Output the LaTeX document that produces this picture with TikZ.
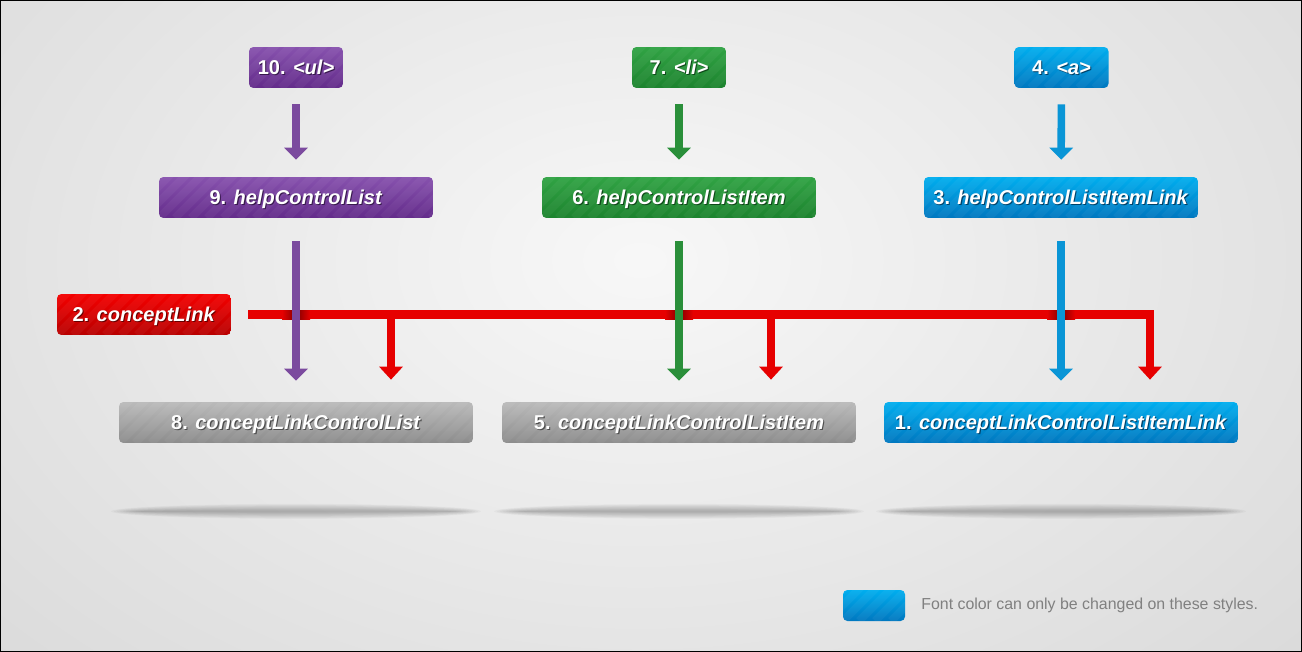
\documentclass[tikz,border=0pt]{standalone}
\usepackage{fontspec}
\setmainfont{Liberation Sans}
\usetikzlibrary{arrows.meta,calc}

\definecolor{plumtop}{HTML}{8752AE}
\definecolor{plumbot}{HTML}{632B8A}
\definecolor{plumline}{HTML}{7B4A9E}
\definecolor{greentop}{HTML}{31A344}
\definecolor{greenbot}{HTML}{1C832E}
\definecolor{greenline}{HTML}{2A8F3A}
\definecolor{bluetop}{HTML}{00AEEF}
\definecolor{bluebot}{HTML}{0077BF}
\definecolor{blueline}{HTML}{0A95D6}
\definecolor{redtop}{HTML}{F40000}
\definecolor{redbot}{HTML}{B80000}
\definecolor{redline}{HTML}{E60000}
\definecolor{greytop}{HTML}{BABABA}
\definecolor{greybot}{HTML}{8C8C8C}

\newcommand{\lbl}[2]{\makebox[0pt][l]{\hspace{0.6pt}\raisebox{-0.6pt}{\color{txtsh}\textbf{#1\textit{#2}}}}\textbf{#1\textit{#2}}}

\tikzset{
  box/.style={rounded corners=2.5pt, minimum height=0.82cm, inner sep=0pt, text=white, text depth=0pt,
    font=\fontsize{11.4}{13}\selectfont,
    path picture={\foreach \k in {-6,...,24}
      \draw[white, opacity=0.045, line width=4.5pt] ($(path picture bounding box.south west)+(\k*16,0)$) -- ++(60,-60);}},
  pbox/.style={box, top color=plumtop, bottom color=plumbot, execute at begin node={\colorlet{txtsh}{plumbot!55!black}}},
  gbox/.style={box, top color=greentop, bottom color=greenbot, execute at begin node={\colorlet{txtsh}{greenbot!55!black}}},
  bbox/.style={box, top color=bluetop, bottom color=bluebot, execute at begin node={\colorlet{txtsh}{bluebot!55!black}}},
  rbox/.style={box, top color=redtop, bottom color=redbot, execute at begin node={\colorlet{txtsh}{redbot!55!black}}},
  ybox/.style={box, top color=greytop, bottom color=greybot, execute at begin node={\colorlet{txtsh}{greybot!55!black}}},
  small/.style={minimum width=1.88cm},
  mid/.style={minimum width=5.48cm},
  wide/.style={minimum width=7.08cm},
  varrow/.style={line width=4.3pt, -{Triangle[width=0.46cm,length=0.24cm]}},
  rarrow/.style={line width=5.1pt, draw=redline, line join=miter, -{Triangle[width=0.46cm,length=0.26cm]}}
}

\begin{document}
\begin{tikzpicture}[x=0.02cm, y=-0.02cm]
  \useasboundingbox (0,0) rectangle (1302,652);
  \begin{scope}
    \clip (0,0) rectangle (1302,652);
    \shade[inner color=white!97!black, outer color=black!22] (640,260) ellipse (1500 and 1000);
  \end{scope}

  % boxes
  \node[pbox, small] (ul) at (296,67.5) {\lbl{10.}{ <ul>}};
  \node[gbox, small] (li) at (679,67.5) {\lbl{7.}{ <li>}};
  \node[bbox, small] (a) at (1061.5,67.5) {\lbl{4.}{ <a>}};
  \node[pbox, mid] (h9) at (296,197.5) {\lbl{9.}{ helpControlList}};
  \node[gbox, mid] (h6) at (679,197.5) {\lbl{6.}{ helpControlListItem}};
  \node[bbox, mid] (h3) at (1061,197.5) {\lbl{3.}{ helpControlListItemLink}};
  \node[rbox, minimum width=3.48cm] (cl) at (144,314.5) {\lbl{2.}{ conceptLink}};
  \node[ybox, wide] (c8) at (296,422.5) {\lbl{8.}{ conceptLinkControlList}};
  \node[ybox, wide] (c5) at (679,422.5) {\lbl{5.}{ conceptLinkControlListItem}};
  \node[bbox, wide] (c1) at (1061,422.5) {\lbl{1.}{ conceptLinkControlListItemLink}};

  % shadows under the bottom row
  \foreach \n in {c8,c5,c1}
    \foreach \i in {1,...,10}
      \fill[black, opacity=0.028] ($(\n.south)+(0,68)$) ellipse ({155+3*\i} and {0.75*\i});

  % conceptLink
  \coordinate (rs) at ($(cl.east)+(17,0)$);
  \draw[rarrow, shorten >=0.44cm] (rs) -| ($(c1.north)+(89,0)$);
  \draw[rarrow, shorten >=0.44cm] ($(c8.north |- rs)+(95,0)$) -- ($(c8.north)+(95,0)$);
  \draw[rarrow, shorten >=0.44cm] ($(c5.north |- rs)+(92,0)$) -- ($(c5.north)+(92,0)$);
  \foreach \n in {c8,c5,c1}
    \shade[left color=redline, right color=redline, middle color=redline!55!black]
      ($(\n.north |- rs)+(-14,-4.5)$) rectangle ($(\n.north |- rs)+(14,4.5)$);

  % help arrows
  \draw[varrow, draw=plumline, shorten <=0.32cm, shorten >=0.34cm] (ul) -- (h9);
  \draw[varrow, draw=greenline, shorten <=0.32cm, shorten >=0.34cm] (li) -- (h6);
  \draw[varrow, draw=blueline, shorten <=0.32cm, shorten >=0.34cm] (a) -- (h3);
  \draw[varrow, draw=plumline, shorten <=0.46cm, shorten >=0.42cm] (h9) -- (c8);
  \draw[varrow, draw=greenline, shorten <=0.46cm, shorten >=0.42cm] (h6) -- (c5);
  \draw[varrow, draw=blueline, shorten <=0.46cm, shorten >=0.42cm] (h3) -- (c1);

  % legend
  \node[bbox, minimum width=1.24cm, minimum height=0.62cm] (key) at (874,605.5) {};
  \node[anchor=west, text=black!50, font=\fontsize{9.05}{11}\selectfont, inner sep=0pt] (keytxt) at (921,605.5)
    {Font color can only be changed on these styles.};

  \draw[black, line width=0.6pt] (0.5,0.5) rectangle (1301.5,651.5);
\end{tikzpicture}
\end{document}
